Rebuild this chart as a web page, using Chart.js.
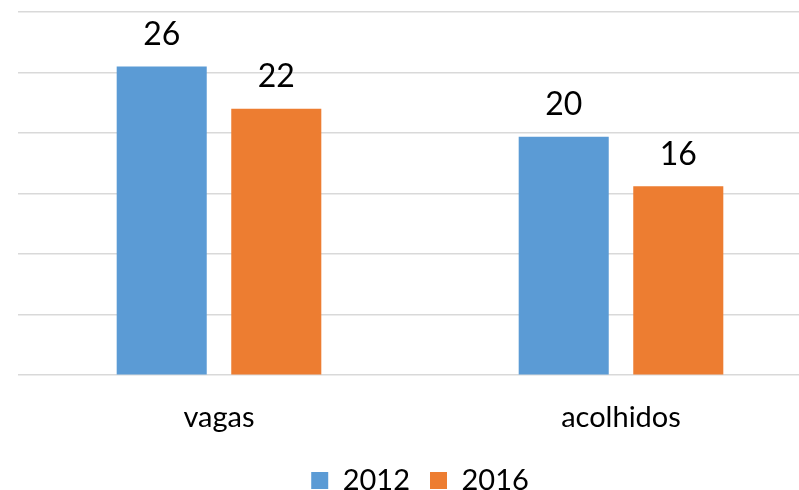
<!DOCTYPE html>
<html>
<head>
<meta charset="utf-8">
<script src="https://cdn.jsdelivr.net/npm/chart.js@4/dist/chart.umd.min.js"></script>
<style>
html,body{margin:0;padding:0;overflow:hidden;background:#fff;width:799px;height:490px;}
canvas{display:block;}
</style>
</head>
<body>
<canvas id="c" width="840" height="490"></canvas>
<script>
const categories = ["vagas", "acolhidos"];
const seriesNames = ["2012", "2016"];
const values2012 = [25.5, 19.7];
const values2016 = [22.0, 15.6];
const yTicks = [0, 5, 10, 15, 20, 25, 30];

const FONT = "Lato, 'Open Sans', sans-serif";

const dataLabels = {
  id: "dataLabels",
  afterDatasetsDraw(chart) {
    const ctx = chart.ctx;
    ctx.save();
    ctx.font = "32px " + FONT;
    ctx.fillStyle = "#000";
    ctx.textAlign = "center";
    ctx.textBaseline = "middle";
    chart.data.datasets.forEach((ds, i) => {
      const meta = chart.getDatasetMeta(i);
      meta.data.forEach((el, j) => {
        ctx.fillText(String(Math.round(ds.data[j])), el.x, el.y - 32);
      });
    });
    ctx.restore();
  }
};

new Chart(document.getElementById("c"), {
  type: "bar",
  data: {
    labels: categories,
    datasets: [
      { label: seriesNames[0], data: values2012, backgroundColor: "#5B9BD5",
        categoryPercentage: 0.57, barPercentage: 0.786 },
      { label: seriesNames[1], data: values2016, backgroundColor: "#ED7D31",
        categoryPercentage: 0.57, barPercentage: 0.786 }
    ]
  },
  options: {
    responsive: false,
    animation: false,
    layout: { padding: { left: 18, right: 18, top: 12, bottom: -15 } },
    plugins: {
      legend: {
        position: "bottom",
        labels: {
          font: { family: FONT, size: 29 },
          color: "#000",
          boxWidth: 17,
          boxHeight: 17,
          padding: 20
        }
      },
      tooltip: { enabled: false }
    },
    scales: {
      x: {
        grid: { display: false },
        border: { display: false },
        ticks: { font: { family: FONT, size: 29 }, color: "#000", padding: 17 },
        afterFit(scale) { scale.height -= 6; }
      },
      y: {
        min: 0, max: 30,
        afterBuildTicks(axis) { axis.ticks = yTicks.map(v => ({ value: v })); },
        ticks: { display: false },
        grid: { color: "#d9d9d9", lineWidth: 1.5, drawTicks: false },
        border: { display: false }
      }
    }
  },
  plugins: [dataLabels]
});
</script>
</body>
</html>
